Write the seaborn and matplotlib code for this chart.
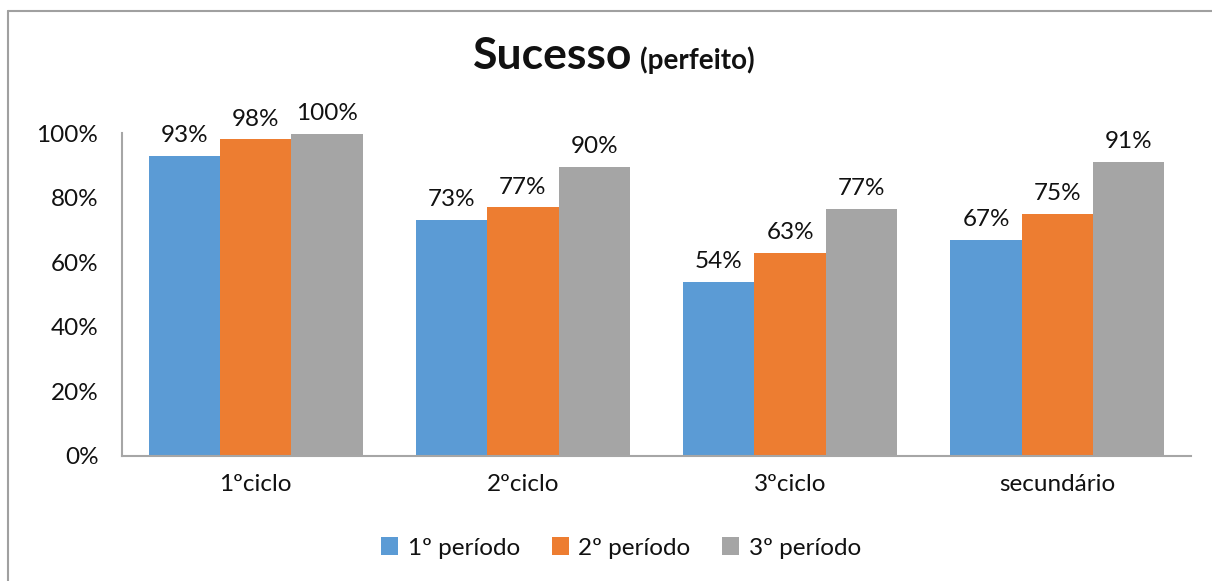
import matplotlib
matplotlib.use("Agg")
import matplotlib.pyplot as plt
import seaborn as sns
import pandas as pd
from matplotlib.lines import Line2D
from matplotlib.patches import Patch

categories = ["1ºciclo", "2ºciclo", "3ºciclo", "secundário"]
series = ["1º período", "2º período", "3º período"]
p1 = [0.93, 0.73, 0.54, 0.67]
p2 = [0.98, 0.77, 0.63, 0.75]
p3 = [0.998, 0.895, 0.765, 0.91]
labels1 = ["93%", "73%", "54%", "67%"]
labels2 = ["98%", "77%", "63%", "75%"]
labels3 = ["100%", "90%", "77%", "91%"]
yticks = [0, 0.2, 0.4, 0.6, 0.8, 1.0]
ytick_labels = ["0%", "20%", "40%", "60%", "80%", "100%"]
colors = ["#5B9BD5", "#ED7D31", "#A5A5A5"]

rows = []
for s, vals in zip(series, [p1, p2, p3]):
    for c, v in zip(categories, vals):
        rows.append({"ciclo": c, "periodo": s, "valor": v})
df = pd.DataFrame(rows)

sns.set_theme(style="white")
plt.rcParams["font.family"] = ["Lato", "DejaVu Sans"]

W, H = 1212, 581
FS = 17.5
fig = plt.figure(figsize=(W / 100, H / 100), dpi=100)
ax = fig.add_axes([122 / W, 1 - 456 / H, (1191 - 122) / W, (456 - 133) / H])

sns.barplot(data=df, x="ciclo", y="valor", hue="periodo", order=categories,
            hue_order=series, palette=colors, width=0.8, ax=ax,
            linewidth=0, saturation=1, legend=False)

for cont, labs in zip(ax.containers, [labels1, labels2, labels3]):
    ax.bar_label(cont, labels=labs, padding=7, fontsize=FS, color="#111111")

ax.set_ylim(0, 1.0)
ax.set_xlim(-0.5, 3.5)
ax.set_yticks(yticks)
ax.set_yticklabels(ytick_labels, fontsize=FS, color="#111111")
ax.tick_params(axis="x", labelsize=FS, colors="#111111", pad=13, length=0)
ax.tick_params(axis="y", pad=17, length=0)
ax.set_xlabel("")
ax.set_ylabel("")
for side in ["top", "right"]:
    ax.spines[side].set_visible(False)
for side in ["left", "bottom"]:
    ax.spines[side].set_color("#a6a6a6")
    ax.spines[side].set_linewidth(1.5)

# title
fig.text(632 / W, 1 - 69 / H, "Sucesso", ha="right", va="baseline",
         fontsize=32, fontweight="bold", color="#111111")
fig.text(640 / W, 1 - 69 / H, "(perfeito)", ha="left", va="baseline",
         fontsize=20, fontweight="bold", color="#111111")

# legend
handles = [Patch(facecolor=c, edgecolor="none") for c in colors]
fig.legend(handles, series, loc="center", bbox_to_anchor=(621 / W, 1 - 548 / H),
           ncol=3, frameon=False, fontsize=FS, handlelength=0.7, handleheight=0.7,
           handletextpad=0.4, columnspacing=1.3, labelcolor="#111111")

# outer border (partial frame)
fig.add_artist(Line2D([7.5 / W, 7.5 / W], [0, 1 - 10.5 / H], transform=fig.transFigure,
                      color="#a0a0a0", linewidth=1.5))
fig.add_artist(Line2D([7.5 / W, 1], [1 - 10.5 / H, 1 - 10.5 / H], transform=fig.transFigure,
                      color="#a0a0a0", linewidth=1.5))

fig.savefig("out.png", dpi=100)
